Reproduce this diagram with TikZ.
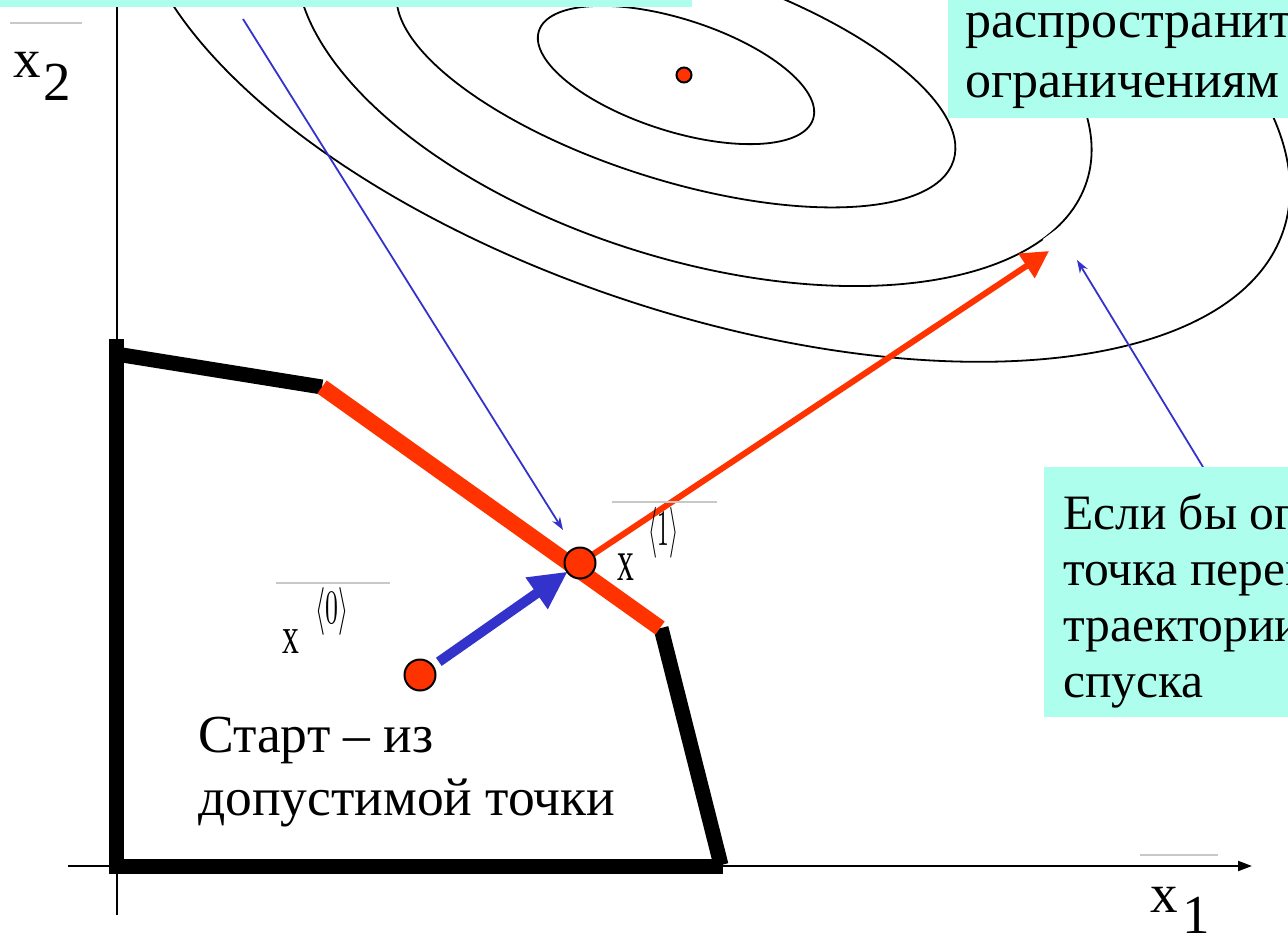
\documentclass[tikz,border=0pt]{standalone}
\usepackage{fontspec}
\setmainfont{Liberation Serif}
\usetikzlibrary{arrows.meta}
\definecolor{cyanbox}{RGB}{174,254,237}
\definecolor{redpt}{RGB}{255,51,0}
\definecolor{bluearr}{RGB}{51,51,204}
\definecolor{barline}{RGB}{200,200,200}
\tikzset{
  contour/.style={draw=black, line width=1.8pt},
  wall/.style={draw=black, line width=15pt},
  cutwall/.style={draw=redpt, line width=16pt},
  callout/.style={draw=bluearr, line width=1.8pt, -{Stealth[length=13pt,width=9pt]}},
  ptdot/.style={circle, draw=black, line width=2pt, fill=redpt, inner sep=0pt},
  lbl/.style={anchor=base west, inner sep=0pt},
  vecbar/.style={draw=barline, line width=1.5pt},
  boxfill/.style={fill=cyanbox}
}
\begin{document}
\begin{tikzpicture}[x=1pt,y=-1pt]
\useasboundingbox (0,0) rectangle (1288,938);
% level curves
\draw[contour, rotate around={-18.3:(712,41)}] (712,41) ellipse [x radius=602pt, y radius=273pt];
\draw[contour, rotate around={-17.5:(694,57)}] (694,57) ellipse [x radius=412pt, y radius=202pt];
\draw[contour, rotate around={-17.5:(676,73)}] (676,73) ellipse [x radius=291pt, y radius=107pt];
\draw[contour, rotate around={-17.8:(676,75)}] (676,75) ellipse [x radius=144pt, y radius=56pt];
\draw[white, line width=7pt] (1045,242) -- (1064,228);
% axes
\draw[line width=2pt] (117,0) -- (117,915);
\draw[line width=2pt, -{Triangle[length=14pt,width=10pt]}] (68,866) -- (1252,866);
% feasible region
\draw[wall] (116,339) -- (116,873);
\draw[wall] (109,866) -- (723,866);
\draw[wall] (116,354) -- (322,387);
\draw[wall] (661,628) -- (721,865);
\draw[cutwall] (322,387) -- (660,628);
% points
\coordinate (p0) at (420,675);
\coordinate (p1) at (580,563);
\coordinate (rtip) at (1049,251);
\coordinate (c1s) at (243,19);
\coordinate (c1e) at (563,530);
\coordinate (c2s) at (1203,467);
\coordinate (c2e) at (1077,260);
% arrows
\draw[bluearr, line width=10pt, -{Triangle[length=38pt,width=36pt]}, shorten <=23pt, shorten >=15pt] (p0) -- (p1);
\draw[redpt, line width=6pt, -{Triangle[length=27pt,width=28pt]}, shorten <=14pt] (p1) -- (rtip);
\draw[callout] (c1s) -- (c1e);
\draw[callout] (c2s) -- (c2e);
% dots
\node[ptdot, minimum size=31pt] (x0dot) at (p0) {};
\node[ptdot, minimum size=31pt] (x1dot) at (p1) {};
\node[ptdot, minimum size=15pt] (mindot) at (684,75) {};
% boxes
\fill[boxfill] (0,0) rectangle (692,7);
\fill[boxfill] (948,0) rectangle (1288,118);
\fill[boxfill] (1044,467) rectangle (1288,717);
% box texts
\node[lbl, font=\fontsize{52}{60}\selectfont] (tr1) at (965,37) {распространит};
\node[lbl, font=\fontsize{52}{60}\selectfont] (tr2) at (965,97) {ограничениям};
\node[lbl, font=\fontsize{49.5}{56}\selectfont] (br1) at (1063,529) {Если бы ог};
\node[lbl, font=\fontsize{49.5}{56}\selectfont] (br2) at (1063,585) {точка перем};
\node[lbl, font=\fontsize{49.5}{56}\selectfont] (br3) at (1063,641) {траектории};
\node[lbl, font=\fontsize{49.5}{56}\selectfont] (br4) at (1063,697) {спуска};
\node[lbl, font=\fontsize{53.5}{63}\selectfont] (st1) at (198,752) {Старт – из};
\node[lbl, font=\fontsize{53.5}{63}\selectfont] (st2) at (198,815) {допустимой точки};
% axis labels
\draw[vecbar] (10,23) -- (82,23);
\node[lbl, font=\fontsize{55}{63}\selectfont] (x2x) at (13,77) {x};
\node[lbl, font=\fontsize{55}{63}\selectfont] (x2n) at (43,100) {2};
\draw[vecbar] (1140,855) -- (1218,855);
\node[lbl, font=\fontsize{55}{63}\selectfont] (x1x) at (1150,912) {x};
\node[lbl, font=\fontsize{55}{63}\selectfont] (x1n) at (1182,933) {1};
% x^<0>
\draw[vecbar] (276,583) -- (390,583);
\node[lbl, font=\fontsize{52}{60}\selectfont] (xa) at (282,653) {\scalebox{0.65}[1]{x}};
\node[lbl] (xai) at (315,623) {\resizebox*{33pt}{48pt}{$\langle 0\rangle$}};
% x^<1>
\draw[vecbar] (612,502) -- (717,502);
\node[lbl, font=\fontsize{58}{66}\selectfont] (xb) at (617,580) {\scalebox{0.58}[1]{x}};
\node[lbl] (xbi) at (648,545) {\resizebox*{30pt}{51pt}{$\langle 1\rangle$}};
\end{tikzpicture}
\end{document}
